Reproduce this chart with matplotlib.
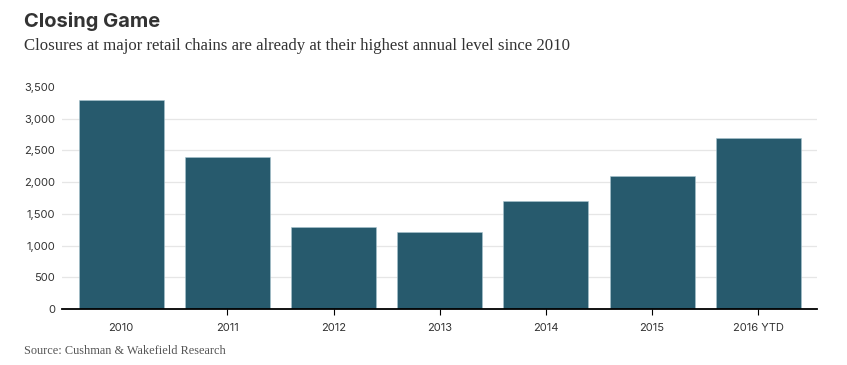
import matplotlib.pyplot as plt

years = ['2010', '2011', '2012', '2013', '2014', '2015', '2016 YTD']
closures = [3300, 2400, 1300, 1220, 1700, 2100, 2700]
y_ticks = [0, 500, 1000, 1500, 2000, 2500, 3000, 3500]

bar_color = '#275a6d'
text_color = '#333333'

fig = plt.figure(figsize=(8.47, 3.65), dpi=100)
ax = fig.add_axes([62/847, 56/365, 755/847, 222/365])

x = range(len(years))
ax.bar(x, closures, width=0.8, color=bar_color, edgecolor='#a9c4cf', linewidth=0.4, zorder=2)

ax.set_xlim(-0.557, 6.553)
ax.set_ylim(0, 3500)
ax.set_yticks(y_ticks)
ax.set_yticklabels([f'{v:,}' for v in y_ticks])
ax.set_xticks(list(x))
ax.set_xticklabels(years)

for v in y_ticks[1:-1]:
    ax.axhline(v, color='#e6e6e6', linewidth=0.9, zorder=1)

for s in ['top', 'right', 'left']:
    ax.spines[s].set_visible(False)
ax.spines['bottom'].set_color('black')
ax.spines['bottom'].set_linewidth(1.3)
ax.spines['bottom'].set_zorder(3)

ax.tick_params(axis='y', length=0, pad=5, labelsize=8, labelcolor=text_color)
ax.tick_params(axis='x', length=4, width=0.8, pad=6, labelsize=8, labelcolor=text_color)
ax.xaxis.get_major_ticks()[0].tick1line.set_visible(False)
for lab in ax.get_xticklabels() + ax.get_yticklabels():
    lab.set_family('Inter')

fig.text(24/847, 1 - 27/365, 'Closing Game', fontsize=14.5, fontweight='bold',
         family='Inter', color=text_color, va='baseline')
fig.text(24/847, 1 - 50/365, 'Closures at major retail chains are already at their highest annual level since 2010',
         fontsize=12.1, family='Liberation Serif', color=text_color, va='baseline')
fig.text(24/847, 1 - 354/365, 'Source: Cushman & Wakefield Research',
         fontsize=8.8, family='Liberation Serif', color='#555555', va='baseline')

fig.savefig('out.png', dpi=100, facecolor='white')
